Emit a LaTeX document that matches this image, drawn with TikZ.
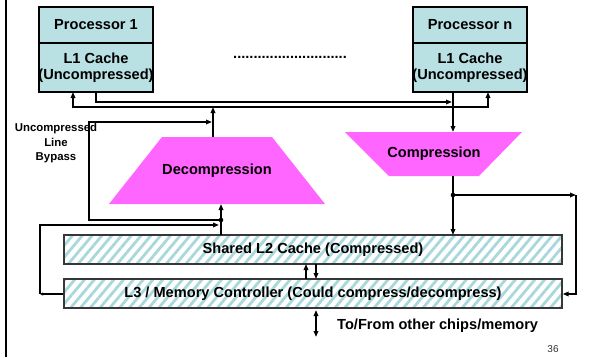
\documentclass[tikz,border=0pt]{standalone}
\usepackage{fontspec}
\setmainfont{Liberation Sans}
\usetikzlibrary{arrows.meta,patterns.meta}
\definecolor{procfill}{RGB}{185,224,226}
\definecolor{magfill}{RGB}{255,102,255}
\definecolor{hatchc}{RGB}{168,216,220}
\definecolor{hborder}{RGB}{55,55,55}
\tikzset{
  bigfont/.style={font=\fontsize{14.6}{17}\selectfont\bfseries},
  procbox/.style={draw=black, line width=1.3pt, fill=procfill, minimum width=114pt,
    inner sep=0pt, bigfont, align=center},
  hatchbox/.style={draw=hborder, line width=1.3pt, preaction={fill=white},
    pattern={Lines[angle=50,distance=7.5pt,line width=2.8pt]}, pattern color=hatchc,
    minimum width=498pt, minimum height=29pt, inner sep=0pt, bigfont},
  conn/.style={line width=1.5pt, -{Triangle[length=6pt,width=4.5pt]}},
  connb/.style={line width=1.5pt, {Triangle[length=6pt,width=4.5pt]}-{Triangle[length=6pt,width=4.5pt]}},
  smalltip/.style={line width=1.5pt, -{Triangle[length=3pt,width=3pt]}},
  trap/.style={fill=magfill, draw=none},
  dotc/.style={fill=black}
}
\begin{document}
\begin{tikzpicture}[x=1pt,y=-1pt]
\useasboundingbox (0,0) rectangle (590,357);
% left border line
\coordinate (lt) at (6,0);
\coordinate (lb) at (6,357);
\draw[line width=2.4pt] (lt) -- (lb);

% processors
\node[procbox, minimum height=36pt] (p1) at (96,25) {Processor 1};
\node[procbox, minimum height=49pt] (c1) at (96,67.5) {L1 Cache\\[-0.5pt]\makebox[0pt]{(Uncompressed)}};
\node[procbox, minimum height=36pt] (pn) at (470,25) {Processor n};
\node[procbox, minimum height=49pt] (cn) at (470,67.5) {L1 Cache\\[-0.5pt]\makebox[0pt]{(Uncompressed)}};

\node[bigfont, inner sep=0pt] (dots) at (290,57) {............................};

% trapezoids
\path[trap] (162,137) -- (272,137) -- (325,204) -- (109,204) -- cycle;
\node[bigfont] (dec) at (217,171) {Decompression};
\path[trap] (345,132) -- (522,132) -- (479,176) -- (389,176) -- cycle;
\node[bigfont] (comp) at (434,154) {Compression};

% hatched boxes
\node[hatchbox] (l2) at (313,249.5) {Shared L2 Cache (Compressed)};
\node[hatchbox] (l3) at (313,293.5) {L3 / Memory Controller (Could compress/decompress)};

% bypass label
\node[font=\fontsize{11.4}{14.5}\selectfont\bfseries, align=center, inner sep=0pt] (byp) at (56,143.5) {Uncompressed\\Line\\Bypass};

% coordinates
\coordinate (c1B) at (73,92);
\coordinate (cnA) at (453,92);
\coordinate (cnB) at (488,92);
\coordinate (ja) at (452,102);
\coordinate (jl1) at (73,107);
\coordinate (jl2) at (488,107);
\coordinate (decout) at (213,137);
\coordinate (decoutE) at (213,107);
\coordinate (comptop) at (453,132);
\coordinate (compbot) at (453,176);
\coordinate (cdot) at (453,195);
\coordinate (rc1) at (576,195);
\coordinate (rc2) at (576,294);
\coordinate (l2in) at (453,235);
\coordinate (l2out) at (221,235);
\coordinate (decin) at (221,204);
\coordinate (ddot) at (221,220);
\coordinate (bp1) at (89,220);
\coordinate (bp2) at (89,122);
\coordinate (bp3) at (212,122);
\coordinate (lc1) at (40,294);
\coordinate (lc2) at (40,225);
\coordinate (lc3) at (219,225);

% L1 -> compression path
\draw[conn, line width=2pt] (c1.south) |- (ja);
\draw[conn] (cnA) -- (comptop);
% decompressed -> L1 caches
\draw[connb] (c1B) -- (jl1) -- (jl2) -- (cnB);
\draw[conn] (decout) -- (decoutE);
% compression -> L2 and L3
\draw[conn] (compbot) -- (l2in);
\fill[dotc] (cdot) circle (2.3pt);
\draw[conn] (cdot) -- (rc1);
\draw[conn] (rc1) -- (rc2) -- (l3.east |- rc2);
% L2 -> decompression, bypass
\draw[conn] (l2out) -- (decin);
\fill[dotc] (ddot) circle (2.3pt);
\draw[conn] (ddot) -- (bp1) -- (bp2) -- (bp3);
% L3 loop
\draw[smalltip] (l3.west |- lc1) -- (lc1);
\draw[conn] (lc1) -- (lc2) -- (lc3);

% L2 <-> L3
\coordinate (u1) at (306,279);
\coordinate (u2) at (306,264);
\coordinate (d1) at (316,264);
\coordinate (d2) at (316,279);
\draw[conn] (u1) -- (u2);
\draw[conn] (d1) -- (d2);
% off-chip
\coordinate (o1) at (316,310);
\coordinate (o2) at (316,337);
\draw[connb] (o1) -- (o2);
\node[bigfont, anchor=west, inner sep=0pt] (offchip) at (337,326) {To/From other chips/memory};

\node[font=\fontsize{10}{12}\selectfont, text=black!80, inner sep=0pt] (pg) at (553,349) {36};
\end{tikzpicture}
\end{document}
